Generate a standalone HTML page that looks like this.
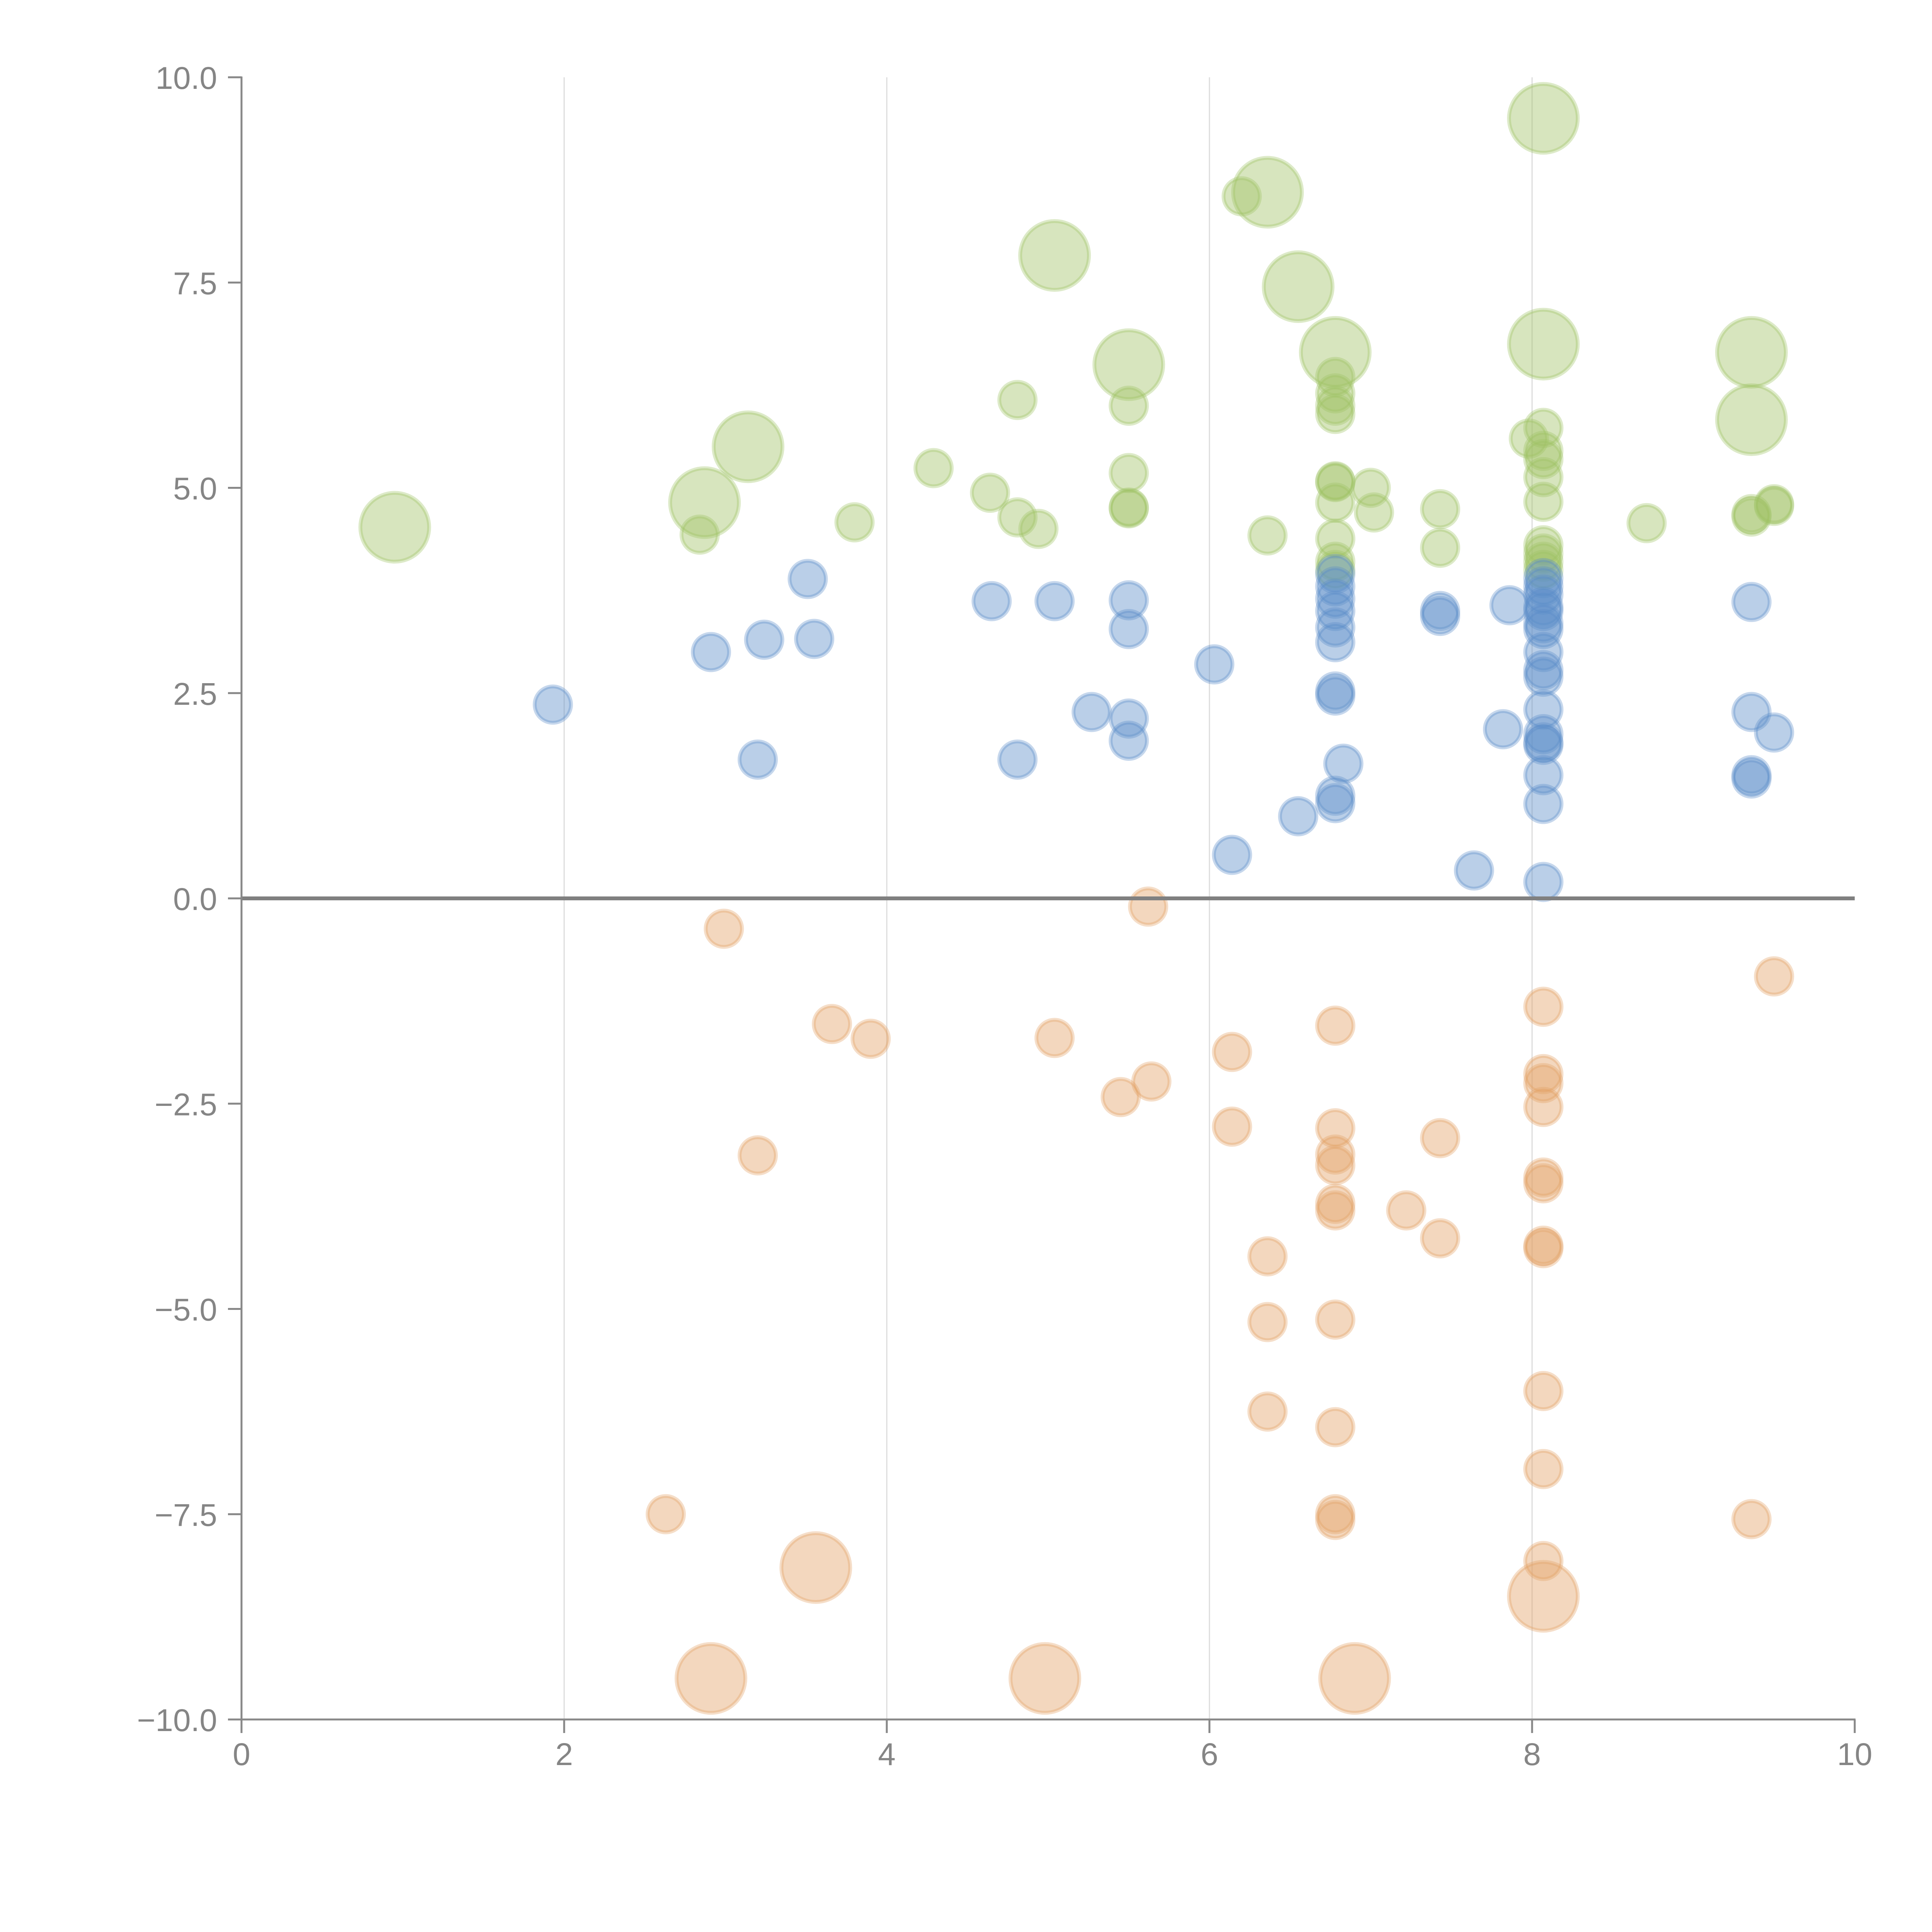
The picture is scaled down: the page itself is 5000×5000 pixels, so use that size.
<!DOCTYPE html>
<html><head><meta charset="utf-8"><style>
html,body{margin:0;padding:0;background:#fff;}
svg{display:block;}
</style></head><body>
<svg id="chart" width="5000" height="5000" viewBox="0 0 5000 5000" xmlns="http://www.w3.org/2000/svg" font-family="Liberation Sans, sans-serif">
<g id="grid"></g>
<g id="marks"></g>
<g id="axes"></g>
</svg>
<script>
const xTicks = [0, 2, 4, 6, 8, 10];
const yTicks = [-10, -7.5, -5, -2.5, 0, 2.5, 5, 7.5, 10];
const yTickLabels = ["\u221210.0", "\u22127.5", "\u22125.0", "\u22122.5", "0.0", "2.5", "5.0", "7.5", "10.0"];

const greenX = [0.95,2.87,3.14,5.04,5.5,6.36,6.55,6.78,8.07,8.07,9.36,9.36,
 2.84,3.8,4.29,4.64,4.81,4.81,4.94,5.5,5.5,5.5,5.5,6.2,6.36,6.78,6.78,6.78,6.78,6.78,6.78,6.78,6.78,6.78,6.78,7.0,7.02,7.43,7.43,7.98,8.07,8.07,8.07,8.07,8.07,8.07,8.07,8.07,8.07,8.71,9.36,9.36,9.5,9.5];
const greenY = [4.52,4.82,5.5,7.83,6.5,8.6,7.45,6.65,9.5,6.75,6.65,5.83,
 4.43,4.58,5.24,4.94,6.07,4.64,4.5,6.0,5.18,4.75,4.76,8.55,4.42,6.35,6.15,6.0,5.9,5.08,5.07,4.82,4.38,4.1,4.0,5.0,4.7,4.74,4.27,5.6,5.73,5.45,5.35,5.13,4.83,4.3,4.2,4.1,4.0,4.57,4.65,4.68,4.8,4.78];
const greenSize = [2,2,2,2,2,2,2,2,2,2,2,2,1,1,1,1,1,1,1,1,1,1,1,1,1,1,1,1,1,1,1,1,1,1,1,1,1,1,1,1,1,1,1,1,1,1,1,1,1,1,1,1,1,1];

const blueX = [1.93,2.91,3.2,3.24,3.51,3.55,4.65,4.81,5.04,5.27,5.5,5.5,5.5,5.5,6.03,6.14,6.55,6.78,6.78,6.78,6.78,6.78,6.78,6.78,6.78,6.78,6.78,6.83,7.43,7.43,7.64,7.82,7.86,8.07,8.07,8.07,8.07,8.07,8.07,8.07,8.07,8.07,8.07,8.07,8.07,8.07,8.07,8.07,8.07,8.07,9.36,9.36,9.36,9.36,9.5];
const blueY = [2.36,3.0,1.69,3.15,3.89,3.16,3.62,1.69,3.62,2.27,3.63,3.28,2.19,1.92,2.85,0.53,1.0,3.95,3.8,3.65,3.5,3.3,3.12,2.52,2.47,1.25,1.16,1.64,3.5,3.44,0.34,2.06,3.57,3.9,3.8,3.7,3.55,3.5,3.35,3.28,3.0,2.78,2.7,2.3,2.0,1.9,1.87,1.5,1.15,0.2,3.61,2.27,1.5,1.46,2.02];

const orangeX = [2.63,2.99,3.2,3.66,3.9,5.04,5.45,5.62,5.64,6.14,6.14,6.36,6.36,6.36,6.78,6.78,6.78,6.78,6.78,6.78,6.78,6.78,6.78,6.78,7.22,7.43,7.43,8.07,8.07,8.07,8.07,8.07,8.07,8.07,8.07,8.07,8.07,8.07,9.36,9.5,
 3.56,2.91,4.98,6.9,8.07];
const orangeY = [-7.5,-0.37,-3.13,-1.53,-1.71,-1.7,-2.42,-0.1,-2.23,-1.87,-2.78,-4.36,-5.16,-6.25,-1.55,-2.8,-3.12,-3.25,-3.72,-3.8,-5.13,-6.44,-7.5,-7.57,-3.8,-2.92,-4.14,-1.32,-2.14,-2.25,-2.54,-3.4,-3.47,-4.23,-4.26,-6.0,-6.95,-8.07,-7.56,-0.95,
 -8.15,-9.5,-9.5,-9.5,-8.5];
const orangeSize = [1,1,1,1,1,1,1,1,1,1,1,1,1,1,1,1,1,1,1,1,1,1,1,1,1,1,1,1,1,1,1,1,1,1,1,1,1,1,1,1,2,2,2,2,2];

const NS = "http://www.w3.org/2000/svg";
const X0 = 625, X1 = 4800, Y0 = 4450, Y1 = 200;
function xs(v){ return X0 + (v - 0) / 10 * (X1 - X0); }
function ys(v){ return Y0 - (v + 10) / 20 * (Y0 - Y1); }
function mk(tag, attrs, parent){ const e = document.createElementNS(NS, tag); for (const k in attrs) e.setAttribute(k, attrs[k]); parent.appendChild(e); return e; }

const grid = document.getElementById('grid');
const marks = document.getElementById('marks');
const axes = document.getElementById('axes');

xTicks.forEach(t => {
  if (t === 0 || t === 10) return;
  const l = mk('line', {x1: xs(t), x2: xs(t), y1: Y1, y2: Y0, stroke: '#dcdcdc', 'stroke-width': 3}, grid);
  
  
});

function drawSeries(xa, ya, sa, fill, stroke, name){
  for (let i = 0; i < xa.length; i++) {
    const big = sa ? sa[i] === 2 : false;
    const r = big ? 89 : 47;
    const c = mk('circle', {cx: xs(xa[i]), cy: ys(ya[i]), r: r, fill: fill, 'fill-opacity': 0.42, stroke: stroke, 'stroke-opacity': 0.35, 'stroke-width': 10}, marks);
    
    
  }
}
drawSeries(greenX, greenY, greenSize, '#9fc264', '#9fc264', 'green-bubble');
drawSeries(blueX, blueY, null, '#5b8cc8', '#5b8cc8', 'blue-bubble');
drawSeries(orangeX, orangeY, orangeSize, '#e3a063', '#e3a063', 'orange-bubble');

const zl = mk('line', {x1: X0, x2: X1, y1: ys(0), y2: ys(0), stroke: '#808080', 'stroke-width': 10}, axes);



const ya = mk('line', {x1: X0, x2: X0, y1: Y1 - 2, y2: Y0, stroke: '#888', 'stroke-width': 5}, axes);


const xa = mk('line', {x1: X0, x2: X1 + 2, y1: Y0, y2: Y0, stroke: '#888', 'stroke-width': 5}, axes);



yTicks.forEach((t, i) => {
  const tk = mk('line', {x1: X0 - 35, x2: X0, y1: ys(t), y2: ys(t), stroke: '#888', 'stroke-width': 5}, axes);
  
  
  const tx = mk('text', {x: 562, y: ys(t) + 30, 'text-anchor': 'end', 'font-size': 82, fill: '#858585'}, axes);
  tx.textContent = yTickLabels[i];
  
  
});
xTicks.forEach(t => {
  const tk = mk('line', {x1: xs(t), x2: xs(t), y1: Y0, y2: Y0 + 35, stroke: '#888', 'stroke-width': 5}, axes);
  
  
  const tx = mk('text', {x: xs(t), y: 4568, 'text-anchor': 'middle', 'font-size': 82, fill: '#858585'}, axes);
  tx.textContent = String(t);
  
  
});
</script>
</body></html>
